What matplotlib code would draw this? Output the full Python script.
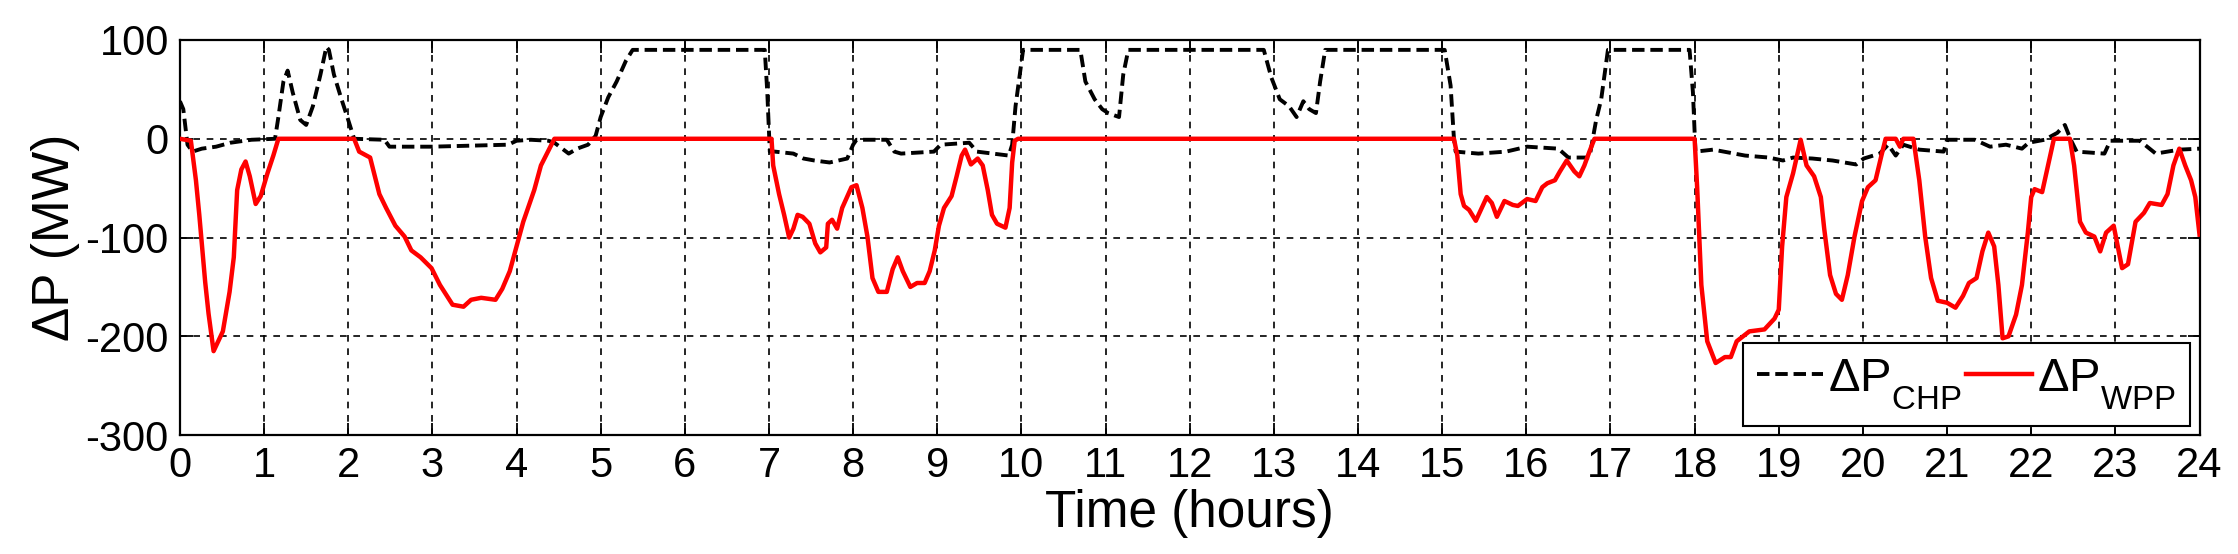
import matplotlib
matplotlib.use("Agg")
import matplotlib.pyplot as plt

plt.rcParams["font.family"] = ["Liberation Sans", "DejaVu Sans"]
plt.rcParams["mathtext.fontset"] = "custom"
plt.rcParams["mathtext.rm"] = "Liberation Sans"
plt.rcParams["axes.unicode_minus"] = False

# drop subscripts a bit lower, like the MATLAB legend
try:
    from matplotlib import _mathtext
    _mathtext.FontConstantsBase.sub1 = 0.75
except Exception:
    pass

# wind power plant deviation (MW) vs time (hours)
wpp_hours = [0, 0.13, 0.19, 0.23, 0.30, 0.34, 0.40, 0.51, 0.59, 0.64, 0.68, 0.73, 0.78,
             0.83, 0.90, 0.96, 1.04, 1.11, 1.17, 2.07, 2.13, 2.26, 2.37, 2.45, 2.56, 2.67,
             2.75, 2.86, 2.99, 3.09, 3.24, 3.37, 3.46, 3.58, 3.75, 3.83, 3.92, 4.00, 4.08,
             4.21, 4.29, 4.45, 7.03, 7.05, 7.12, 7.18, 7.24, 7.29, 7.34, 7.40, 7.48, 7.55,
             7.61, 7.68, 7.70, 7.75, 7.81, 7.87, 7.98, 8.04, 8.11, 8.17, 8.23, 8.30, 8.40,
             8.47, 8.53, 8.59, 8.68, 8.76, 8.85, 8.91, 8.97, 9.02, 9.08, 9.17, 9.23, 9.29,
             9.33, 9.40, 9.48, 9.54, 9.60, 9.65, 9.71, 9.81, 9.86, 9.89, 9.92, 9.96, 15.14,
             15.18, 15.22, 15.26, 15.32, 15.40, 15.47, 15.53, 15.59, 15.65, 15.74, 15.84,
             15.90, 16.01, 16.11, 16.19, 16.25, 16.34, 16.40, 16.48, 16.57, 16.63, 16.69,
             16.75, 16.81, 18.00, 18.03, 18.08, 18.15, 18.25, 18.36, 18.43, 18.50, 18.65,
             18.83, 18.95, 19.00, 19.04, 19.09, 19.17, 19.26, 19.33, 19.42, 19.50, 19.54,
             19.61, 19.68, 19.75, 19.82, 19.90, 19.99, 20.06, 20.15, 20.22, 20.27, 20.39,
             20.44, 20.48, 20.60, 20.67, 20.74, 20.81, 20.89, 21.00, 21.10, 21.19, 21.26,
             21.35, 21.42, 21.49, 21.56, 21.61, 21.66, 21.73, 21.82, 21.89, 21.96, 22.00,
             22.04, 22.13, 22.20, 22.27, 22.46, 22.51, 22.58, 22.65, 22.75, 22.82, 22.89,
             22.98, 23.08, 23.15, 23.24, 23.34, 23.41, 23.55, 23.62, 23.69, 23.76, 23.83,
             23.90, 23.95, 24.00]
wpp_mw = [0, -2, -42, -77, -145, -177, -215, -195, -155, -120, -52, -31, -23,
          -38, -66, -58, -35, -17, 0, 0, -13, -19, -56, -70, -88, -99,
          -113, -120, -131, -148, -168, -170, -163, -161, -163, -152, -134, -109, -84,
          -52, -27, 0, 0, -27, -56, -77, -100, -91, -77, -79, -86, -106,
          -115, -110, -86, -82, -91, -70, -49, -47, -70, -99, -141, -155, -155,
          -132, -120, -134, -150, -146, -146, -134, -113, -88, -70, -58, -38, -17,
          -11, -26, -20, -27, -52, -77, -86, -90, -70, -24, -2, 0, 0,
          -17, -56, -68, -72, -83, -70, -59, -65, -79, -63, -67,
          -68, -61, -63, -49, -45, -42, -33, -22, -33, -38, -27,
          -13, 0, 0, -49, -148, -205, -227, -221, -221, -205, -195,
          -193, -182, -173, -109, -59, -35, -1, -27, -38, -59, -91,
          -138, -157, -163, -138, -99, -63, -49, -42, -17, 0, 0,
          -8, 0, 0, -42, -99, -141, -164, -166, -171, -159, -146,
          -141, -114, -95, -109, -148, -202, -200, -178, -148, -95, -59,
          -51, -54, -27, 0, 0, -27, -84, -95, -99, -114, -95,
          -88, -131, -127, -84, -75, -65, -67, -56, -27, -10, -27,
          -42, -59, -97]

# CHP deviation (MW) vs time (hours)
chp_hours = [0, 0.04, 0.09, 0.15, 0.26, 0.43, 0.60, 0.85, 1.13, 1.17, 1.23, 1.28, 1.34,
             1.43, 1.50, 1.58, 1.67, 1.74, 1.77, 1.83, 1.92, 2.00, 2.07, 2.43, 2.49, 2.99,
             3.90, 4.00, 4.17, 4.38, 4.45, 4.62, 4.72, 4.85, 4.94, 5.00, 5.09, 5.19, 5.30,
             5.38, 6.95, 6.98, 7.01, 7.07, 7.29, 7.41, 7.54, 7.72, 7.93, 8.00, 8.04, 8.40,
             8.49, 8.57, 8.96, 9.04, 9.38, 9.47, 9.85, 9.89, 9.93, 9.98, 10.02, 10.70, 10.76,
             10.87, 10.96, 11.03, 11.16, 11.21, 11.27, 12.88, 12.97, 13.07, 13.18, 13.27,
             13.35, 13.42, 13.50, 13.55, 13.61, 15.03, 15.10, 15.14, 15.16, 15.43, 15.76,
             16.01, 16.38, 16.50, 16.75, 16.83, 16.89, 16.93, 16.97, 17.94, 17.98, 18.01,
             18.22, 18.60, 18.88, 19.05, 19.17, 19.40, 19.64, 19.92, 20.01, 20.20, 20.30,
             20.39, 20.48, 20.67, 20.96, 21.00, 21.33, 21.51, 21.70, 21.89, 21.97, 22.16,
             22.31, 22.40, 22.47, 22.54, 22.87, 22.94, 23.29, 23.48, 23.76, 24.00]
chp_mw = [38, 30, -6, -13, -10, -8, -4, -1, 0, 22, 58, 69, 47,
          19, 14, 33, 65, 93, 90, 65, 40, 19, 0, -1, -8, -8,
          -6, -2, -1, -2, -4, -15, -10, -6, 3, 22, 42, 58, 79,
          90, 90, 47, -13, -13, -15, -20, -22, -24, -20, -6, -1, -1,
          -13, -15, -13, -6, -4, -13, -17, -6, 33, 65, 90, 90, 58,
          40, 30, 26, 22, 65, 90, 90, 62, 40, 33, 22,
          38, 30, 26, 58, 90, 90, 54, 0, -13, -15, -13,
          -8, -10, -19, -19, 19, 40, 65, 90, 90, 47, -13,
          -11, -17, -19, -22, -19, -20, -22, -26, -20, -15, -6,
          -17, -6, -11, -13, -1, -1, -8, -6, -10, -4, -1,
          6, 14, -1, -13, -15, -2, -2, -15, -11, -10]

x_ticks = list(range(0, 25))
y_ticks = [-300, -200, -100, 0, 100]


def main():
    fig = plt.figure(figsize=(22.38, 5.54), dpi=100)
    ax = fig.add_axes([0.0804, 0.2146, 0.9024, 0.7132])

    ax.plot(chp_hours, chp_mw, color="black", linestyle=(0, (3.2, 1.5)), linewidth=2.8,
            label=r"$\mathrm{\Delta P}_{\mathrm{CHP}}$", zorder=3)
    ax.plot(wpp_hours, wpp_mw, color="#ff0000", linewidth=3.2,
            label=r"$\mathrm{\Delta P}_{\mathrm{WPP}}$", zorder=4)

    ax.set_xlim(0, 24)
    ax.set_ylim(-300, 100)
    ax.set_xticks(x_ticks)
    ax.set_yticks(y_ticks)
    ax.grid(True, color="black", linestyle=(0, (4, 4)), linewidth=1.2)
    ax.set_axisbelow(True)
    ax.tick_params(direction="in", top=True, right=True, length=9, width=1.3,
                   labelsize=30, pad=8)
    for sp in ax.spines.values():
        sp.set_linewidth(1.6)

    ax.set_xlabel("Time (hours)", fontsize=37, labelpad=2)
    ax.set_ylabel("ΔP (MW)", fontsize=37, labelpad=4)

    leg = ax.legend(loc="lower right", ncol=2, fontsize=34, frameon=True, fancybox=False,
                    framealpha=1, edgecolor="black", handlelength=1.4, handletextpad=0.1,
                    columnspacing=0.1, borderpad=0.3, borderaxespad=0.2)
    leg.get_frame().set_linewidth(1.5)

    fig.savefig("out.png", dpi=100)


if __name__ == "__main__":
    main()
